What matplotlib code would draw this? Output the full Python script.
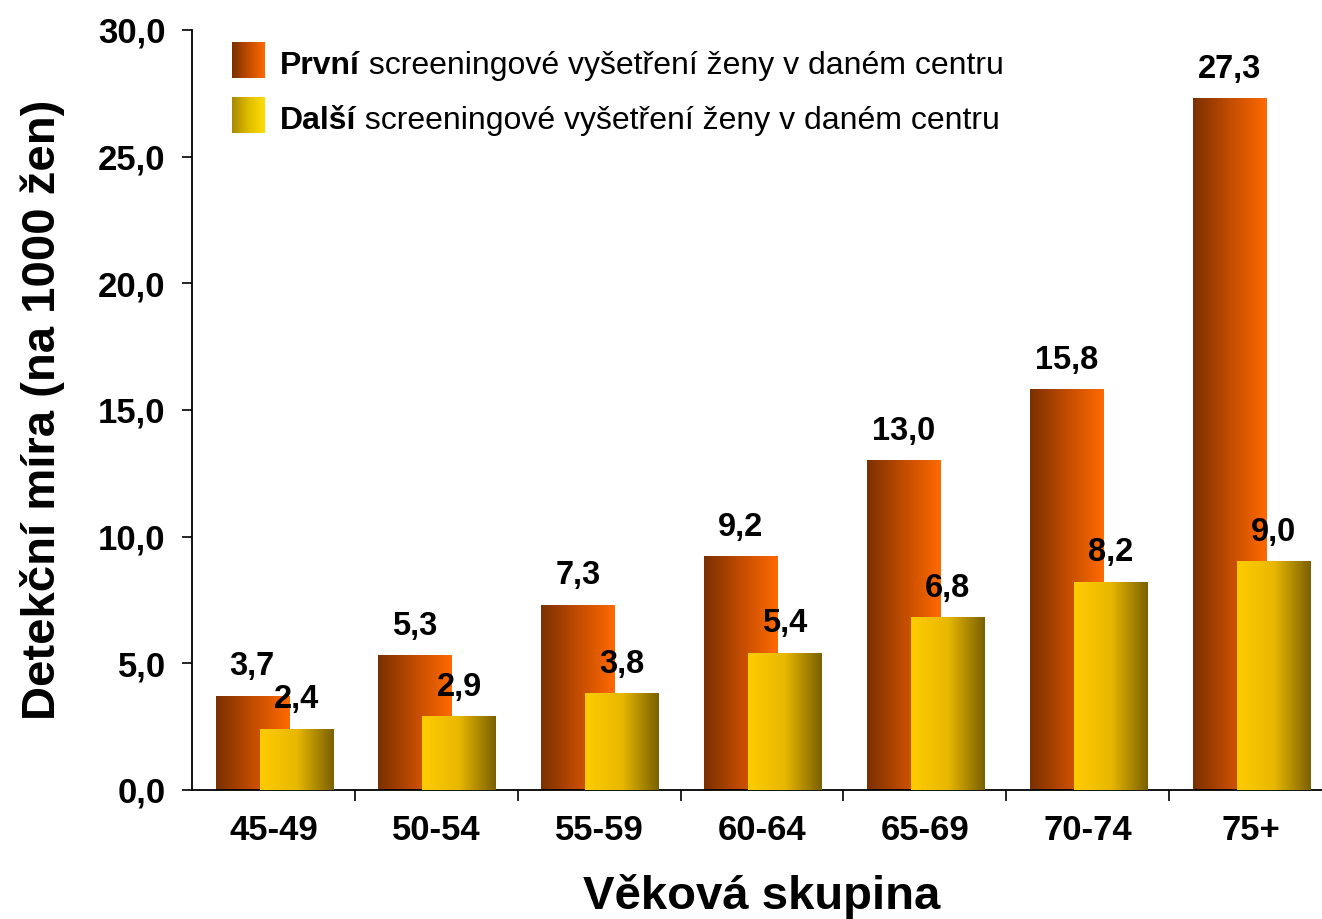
import numpy as np
import matplotlib
matplotlib.use('Agg')
import matplotlib.pyplot as plt
from matplotlib.colors import LinearSegmentedColormap

categories = ['45-49', '50-54', '55-59', '60-64', '65-69', '70-74', '75+']
first_exam = [3.7, 5.3, 7.3, 9.2, 13.0, 15.8, 27.3]
next_exam = [2.4, 2.9, 3.8, 5.4, 6.8, 8.2, 9.0]
legend_bold = ['První', 'Další']
legend_rest = [' screeningové vyšetření ženy v daném centru',
               ' screeningové vyšetření ženy v daném centru']
y_ticks = [0, 5, 10, 15, 20, 25, 30]
y_label = 'Detekční míra (na 1000 žen)'
x_label = 'Věková skupina'

plt.rcParams['font.family'] = ['Liberation Sans', 'DejaVu Sans']

W, H = 1322, 919
fig = plt.figure(figsize=(W / 100, H / 100), dpi=100)
ax = fig.add_axes([192 / W, 1 - 790 / H, 1140 / W, 760 / H])

cmap_o = LinearSegmentedColormap.from_list('o', ['#7a3000', '#c24c00', '#ff6a00'])
cmap_y = LinearSegmentedColormap.from_list('y', ['#ffcc00', '#e8b800', '#7a6000'])
cmap_yl = LinearSegmentedColormap.from_list('yl', ['#a88800', '#e0bc00', '#ffdd00'])
grad = np.linspace(0, 1, 256).reshape(1, -1)

x = np.arange(len(categories))
bw = 0.45
bars_o = ax.bar(x - 0.13, first_exam, bw, color='none', zorder=2)
bars_y = ax.bar(x + 0.14, next_exam, bw, color='none', zorder=3)

for bars, cmap, z in ((bars_o, cmap_o, 2), (bars_y, cmap_y, 3)):
    for b in bars:
        ax.imshow(grad, aspect='auto', cmap=cmap, interpolation='bicubic',
                  extent=(b.get_x(), b.get_x() + b.get_width(), 0, b.get_height()),
                  zorder=z)

for bars, vals in ((bars_o, first_exam), (bars_y, next_exam)):
    for b, v in zip(bars, vals):
        ax.annotate(f'{v:.1f}'.replace('.', ','),
                    (b.get_x() + b.get_width() / 2, b.get_height()),
                    xytext=(0, 10), textcoords='offset points',
                    ha='center', va='bottom', fontsize=23.5, fontweight='bold',
                    zorder=6)

ax.set_xlim(-0.5, len(categories) - 0.5)
ax.set_ylim(0, 30)
ax.set_yticks(y_ticks)
ax.set_yticklabels([f'{t:.1f}'.replace('.', ',') for t in y_ticks],
                   fontsize=25, fontweight='bold')
ax.set_xticks(x)
ax.set_xticklabels(categories, fontsize=25, fontweight='bold')
ax.set_xticks(np.arange(0.5, len(categories) - 0.5, 1), minor=True)
ax.tick_params(axis='x', which='major', length=0, pad=17)
ax.tick_params(axis='x', which='minor', length=8, width=1.2, direction='out')
ax.tick_params(axis='y', length=7, width=1.2, direction='out', pad=12)
for s in ('top', 'right'):
    ax.spines[s].set_visible(False)
for s in ('left', 'bottom'):
    ax.spines[s].set_linewidth(1.3)
ax.set_ylabel(y_label, fontsize=34, fontweight='bold', labelpad=24)
ax.set_xlabel(x_label, fontsize=34, fontweight='bold', labelpad=20)

# legend drawn manually
fig.canvas.draw()
renderer = fig.canvas.get_renderer()
for i, (bt, rt, cmap) in enumerate(zip(legend_bold, legend_rest, (cmap_o, cmap_yl))):
    top = 42 + i * 55
    lax = fig.add_axes([232 / W, 1 - (top + 36) / H, 33 / W, 36 / H])
    lax.imshow(grad, aspect='auto', cmap=cmap, interpolation='bicubic')
    lax.axis('off')
    yc = 1 - (top + 24) / H
    t1 = fig.text(280 / W, yc, bt, fontsize=23, fontweight='bold', va='center', ha='left')
    ext = t1.get_window_extent(renderer)
    fig.text(ext.x1 / W, yc, rt, fontsize=23, va='center', ha='left')

fig.savefig('out.png', dpi=100)
